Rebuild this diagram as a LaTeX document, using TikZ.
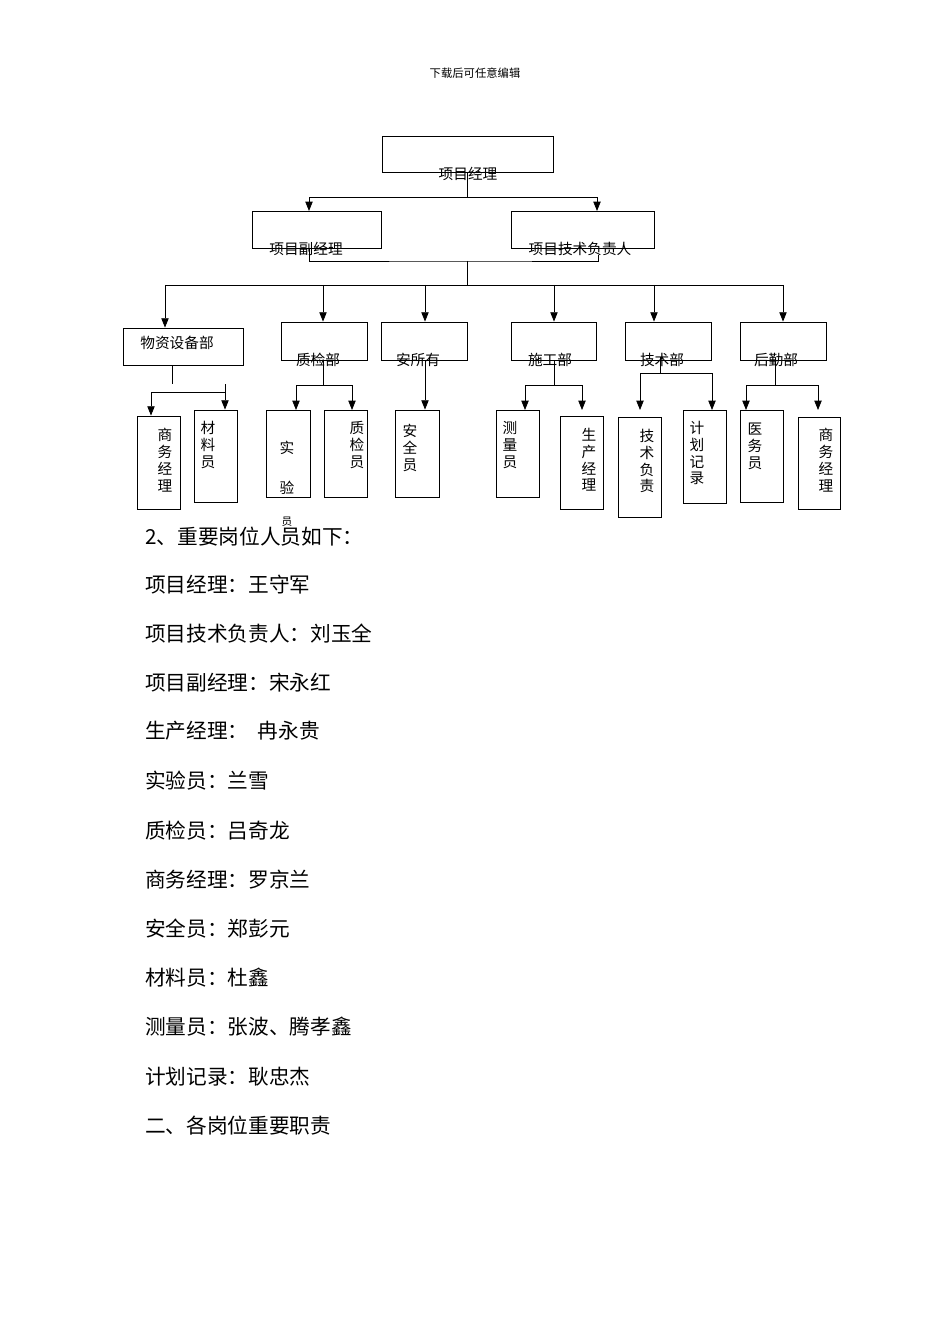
\documentclass[tikz,border=0pt]{standalone}
\usepackage{fontspec}
\setmainfont{Noto Sans CJK SC}
\usetikzlibrary{positioning, arrows.meta}

\tikzset{
  box/.style={draw=black, line width=0.6pt, inner sep=0pt},
  arr/.style={line width=0.6pt, -{Triangle[width=5.5pt,length=7pt]}},
  ln/.style={line width=0.6pt},
  lbl/.style={font=\fontsize{11}{12.6}\selectfont, inner sep=0pt},
  vlbl/.style={lbl, align=center, anchor=north},
  body/.style={font=\fontsize{15.5}{18}\selectfont, anchor=west, inner sep=0pt}
}
% box: name, centre x, centre y, width, height (pixels)
\newcommand\bx[5]{\node[box, minimum width=#4*0.75pt, minimum height=#5*0.75pt] (#1) at (#2,#3) {};}

\begin{document}
\begin{tikzpicture}[x=0.75pt, y=-0.75pt]
  \useasboundingbox (0,0) rectangle (950,1344);
  \node[font=\fontsize{8.5}{10}\selectfont] (head) at (475,73) {下载后可任意编辑};

  % top levels
  \bx{pm}{467.5}{154}{171}{36}
  \bx{vp}{316.5}{229.5}{129}{37}
  \bx{tp}{582.5}{229.5}{143}{37}
  \node[lbl] (t-pm) at (468,174) {项目经理};
  \node[lbl] (t-vp) at (306,249) {项目副经理};
  \node[lbl] (t-tp) at (580,249) {项目技术负责人};
  \coordinate (j-vp) at (309,211);
  \coordinate (j-tp) at (597,211);
  \draw[arr] (pm.south) -- ++(0,25) -| (j-vp);
  \draw[arr] (pm.south) -- ++(0,25) -| (j-tp);
  \coordinate (u-vp) at (309,248);
  \coordinate (u-tp) at (598,255);
  \coordinate (hub) at (467,285);
  \draw[ln] (u-vp) |- (467,261) coordinate (hub-top) -| (u-tp);
  \draw[ln] (hub-top) -- (hub);

  % departments
  \coordinate (bar-l) at (165,285);
  \coordinate (bar-r) at (783,285);
  \draw[ln] (bar-l) -- (bar-r);
  \bx{wz}{183}{346.5}{120}{37}
  \bx{zj}{324}{341}{86}{38}
  \bx{az}{424}{341}{86}{38}
  \bx{sg}{553.5}{341}{85}{38}
  \bx{js}{668}{341}{86}{38}
  \bx{hq}{783}{341}{86}{38}
  \node[lbl] (t-wz) at (177,343) {物资设备部};
  \node[lbl] (t-zj) at (318,360) {质检部};
  \node[lbl] (t-az) at (418,360) {安所有};
  \node[lbl] (t-sg) at (550,360) {施工部};
  \node[lbl] (t-js) at (662,360) {技术部};
  \node[lbl] (t-hq) at (776,360) {后勤部};
  \draw[arr] (bar-l) -- (bar-l |- wz.north);
  \foreach \d/\x in {zj/323, az/425, sg/554, js/654, hq/783}
    \draw[arr] (\x,285) coordinate (a-\d) -- (a-\d |- \d.north);

  % staff
  \bx{wz1}{158.5}{462.5}{43}{93}
  \bx{wz2}{215.5}{456}{43}{92}
  \bx{zj1}{288}{453.5}{44}{87}
  \bx{zj2}{345.5}{453.5}{43}{87}
  \bx{az1}{417}{453.5}{44}{87}
  \bx{sg1}{517.5}{453.5}{43}{87}
  \bx{sg2}{581.5}{462.5}{43}{93}
  \bx{js1}{639.5}{467}{43}{100}
  \bx{js2}{704.5}{456.5}{43}{93}
  \bx{hq1}{761.5}{456}{43}{92}
  \bx{hq2}{819}{463}{42}{92}

  % 物资设备部
  \coordinate (s-wz) at (172,384);
  \draw[ln] (wz.south -| s-wz) -- (s-wz);
  \coordinate (k-wz) at (151,392);
  \draw[arr] (225,392) -| (k-wz) -- (k-wz |- wz1.north);
  \coordinate (k-wz2) at (225,384);
  \draw[arr] (k-wz2) -- (k-wz2 |- wz2.north);
  % 质检部, 施工部, 后勤部
  \foreach \d/\x/\l/\r/\a/\b in {zj/323/296/352/zj1/zj2, sg/554/525/582/sg1/sg2, hq/775/746/818/hq1/hq2}{
    \draw[ln] (\x,360) coordinate (s-\d) -- (\x,385) coordinate (m-\d);
    \draw[arr] (m-\d) -| (\l,410) coordinate (e-\a);
    \draw[arr] (m-\d) -| (\r,410) coordinate (e-\b);
  }
  \draw[arr] (a-az |- az.south) -- (a-az |- az1.north);
  % 技术部
  \coordinate (m-js) at (660,373);
  \draw[ln] (660,357) -- (m-js);
  \draw[arr] (m-js) -| (640,410) coordinate (e-js1);
  \draw[arr] (m-js) -| (712,410) coordinate (e-js2);

  % staff labels
  \node[vlbl] (t-wz1) at (165,428) {商\\务\\经\\理};
  \node[vlbl] (t-wz2) at (208,421) {材\\料\\员};
  \node[lbl] (t-zj1a) at (287,448) {实};
  \node[lbl] (t-zj1b) at (287,488) {验};
  \node[font=\fontsize{8}{9}\selectfont, inner sep=0pt] (t-zj1c) at (287,522) {员};
  \node[vlbl] (t-zj2) at (357,421) {质\\检\\员};
  \node[vlbl] (t-az1) at (410,424) {安\\全\\员};
  \node[vlbl] (t-sg1) at (510,421) {测\\量\\员};
  \node[vlbl] (t-sg2) at (589,428) {生\\产\\经\\理};
  \node[vlbl] (t-js1) at (647,429) {技\\术\\负\\责};
  \node[vlbl] (t-js2) at (697,421) {计\\划\\记\\录};
  \node[vlbl] (t-hq1) at (755,423) {医\\务\\员};
  \node[vlbl] (t-hq2) at (826,428) {商\\务\\经\\理};

  % body text
  \foreach \y/\s [count=\i] in {537/{2、重要岗位人员如下：}, 585/{项目经理：王守军},
      634/{项目技术负责人：刘玉全}, 683/{项目副经理：宋永红}, 731/{生产经理：\ \ 冉永贵},
      781/{实验员：兰雪}, 831/{质检员：吕奇龙}, 880/{商务经理：罗京兰},
      929/{安全员：郑彭元}, 978/{材料员：杜鑫}, 1027/{测量员：张波、腾孝鑫},
      1077/{计划记录：耿忠杰}, 1126/{二、各岗位重要职责}}
    \node[body] (b\i) at (145,\y) {\s};
\end{tikzpicture}
\end{document}
